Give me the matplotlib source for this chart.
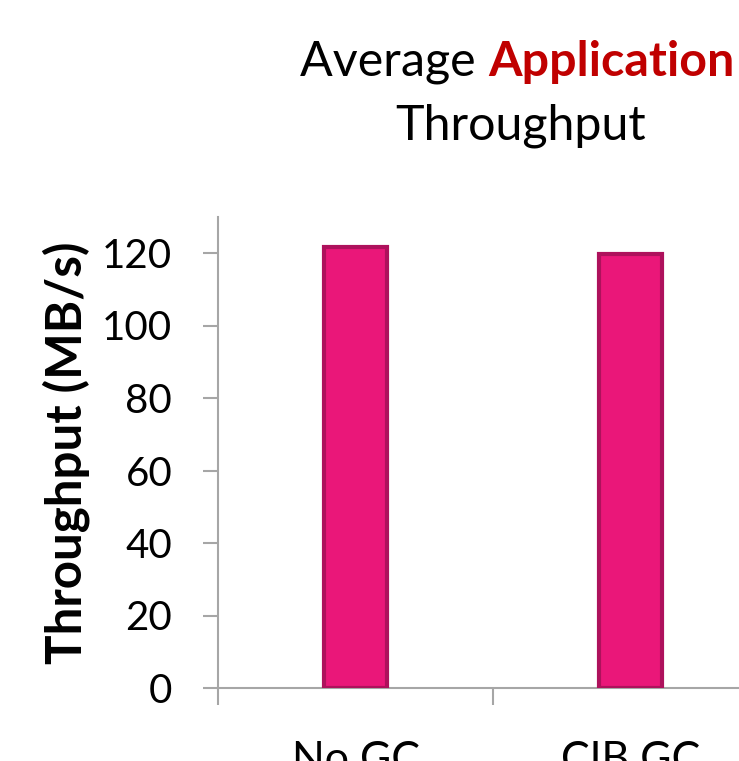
import matplotlib
matplotlib.use("Agg")
import matplotlib.pyplot as plt

categories = ["No GC", "CIB GC"]
throughput = [121.7, 119.6]
y_ticks = [0, 20, 40, 60, 80, 100, 120]

plt.rcParams["font.family"] = ["Lato", "DejaVu Sans"]

AXIS_GREY = "#A6A6A6"
BAR_FILL = "#EA1779"
BAR_EDGE = "#AE115C"

fig = plt.figure(figsize=(7.39, 7.61), dpi=100)
# axes run off the right edge of the canvas, like the cropped original
ax = fig.add_axes([218 / 739, 73 / 761, 550 / 739, 471.25 / 761])

positions = list(range(len(categories)))
ax.bar(positions, throughput, width=0.232, color=BAR_FILL,
       edgecolor=BAR_EDGE, linewidth=3, zorder=3)

ax.set_xlim(-0.5, len(categories) - 0.5)
ax.set_ylim(0, 130)
ax.set_yticks(y_ticks)
ax.tick_params(axis="y", labelsize=29, length=11, width=1.5,
               color=AXIS_GREY, pad=22)

# category boundaries carry the tick marks, centres carry the labels
ax.set_xticks([p - 0.5 for p in positions] + [positions[-1] + 0.5])
ax.set_xticklabels([])
ax.set_xticks(positions, minor=True)
ax.set_xticklabels(categories, minor=True)
ax.tick_params(axis="x", which="major", length=12, width=1.5, color=AXIS_GREY)
ax.tick_params(axis="x", which="minor", length=0, labelsize=31, pad=38)

for side in ("top", "right"):
    ax.spines[side].set_visible(False)
for side in ("left", "bottom"):
    ax.spines[side].set_color(AXIS_GREY)
    ax.spines[side].set_linewidth(1.5)

ax.set_ylabel("Throughput (MB/s)", fontsize=35.5, fontweight="bold", labelpad=9)

t1 = fig.text(300 / 739, 1 - 75 / 761, "Average ", fontsize=34.8,
              ha="left", va="baseline")
ax.annotate("Application", xy=(1, 0), xycoords=t1, fontsize=34.8,
            fontweight="bold", color="#C00000", ha="left", va="bottom",
            annotation_clip=False)
fig.text(521 / 739, 1 - 140 / 761, "Throughput", fontsize=34.8,
         ha="center", va="baseline")

fig.savefig("out.png", dpi=100)
